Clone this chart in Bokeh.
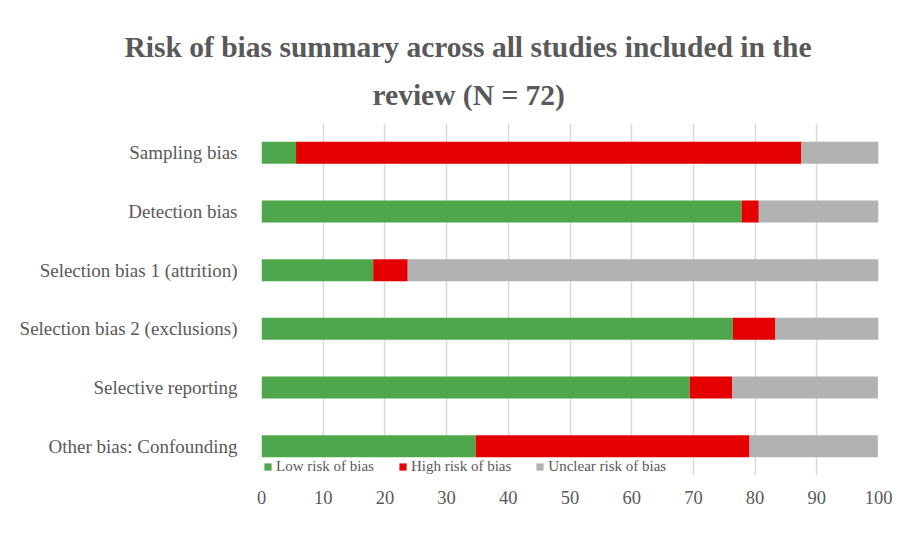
from bokeh.plotting import figure
from bokeh.models import Range1d, FactorRange, Legend, LegendItem, Title, FixedTicker, ColumnDataSource
from bokeh.embed import file_html
from bokeh.resources import INLINE

categories = ["Sampling bias", "Detection bias", "Selection bias 1 (attrition)",
              "Selection bias 2 (exclusions)", "Selective reporting", "Other bias: Confounding"]
low = [5.6, 77.8, 18.1, 76.4, 69.4, 34.7]
high = [81.9, 2.8, 5.6, 6.9, 6.9, 44.4]
unclear = [12.5, 19.4, 76.4, 16.7, 23.6, 20.8]
series_names = ["Low risk of bias", "High risk of bias", "Unclear risk of bias"]
x_ticks = [0, 10, 20, 30, 40, 50, 60, 70, 80, 90, 100]
title_line1 = "Risk of bias summary across all studies included in the"
title_line2 = "review (N = 72)"

colors = ["#4EA84B", "#E50000", "#B2B2B2"]
FONT = "Liberation Serif"
TXT = "#595959"

src = ColumnDataSource(dict(cat=categories, low=low, high=high, unclear=unclear))

p = figure(width=893, height=552, output_backend="svg", toolbar_location=None,
           y_range=FactorRange(factors=list(reversed(categories))),
           x_range=Range1d(0, 100),
           min_border_left=261, min_border_right=15, min_border_top=123, min_border_bottom=77)
p.outline_line_color = None

renderers = p.hbar_stack(["low", "high", "unclear"], y="cat", height=0.375, color=colors,
                         source=src, line_color=None)

p.xaxis.ticker = FixedTicker(ticks=x_ticks)
p.xaxis.axis_line_color = None
p.xaxis.major_tick_line_color = None
p.xaxis.minor_tick_line_color = None
p.xaxis.major_label_text_font = FONT
p.xaxis.major_label_text_font_size = "18.5px"
p.xaxis.major_label_text_color = TXT
p.xaxis.major_label_standoff = 9

p.yaxis.axis_line_color = None
p.yaxis.major_tick_line_color = None
p.yaxis.minor_tick_line_color = None
p.yaxis.major_label_text_font = FONT
p.yaxis.major_label_text_font_size = "19px"
p.yaxis.major_label_text_color = TXT
p.yaxis.major_label_standoff = 18

p.ygrid.grid_line_color = None
p.xgrid.grid_line_color = "#d9d9d9"
p.xgrid.grid_line_width = 1.5

legend = Legend(items=[LegendItem(label=n, renderers=[r]) for n, r in zip(series_names, renderers)],
                orientation="horizontal", location=(2, 0),
                glyph_width=9, glyph_height=9, label_standoff=4, spacing=24,
                padding=1, margin=0, border_line_color=None,
                background_fill_color="white", background_fill_alpha=1.0,
                label_text_font=FONT, label_text_font_size="15px", label_text_color=TXT)
p.add_layout(legend, "center")

tkw = dict(text_font=FONT, text_font_size="29.5px", text_font_style="bold",
           text_color=TXT, align="left")
t2 = Title(text=title_line2, offset=111, standoff=26, **tkw)
t1 = Title(text=title_line1, offset=-137, standoff=2, **tkw)
p.add_layout(t2, "above")
p.add_layout(t1, "above")

open("out.html", "w").write(file_html(p, INLINE))
